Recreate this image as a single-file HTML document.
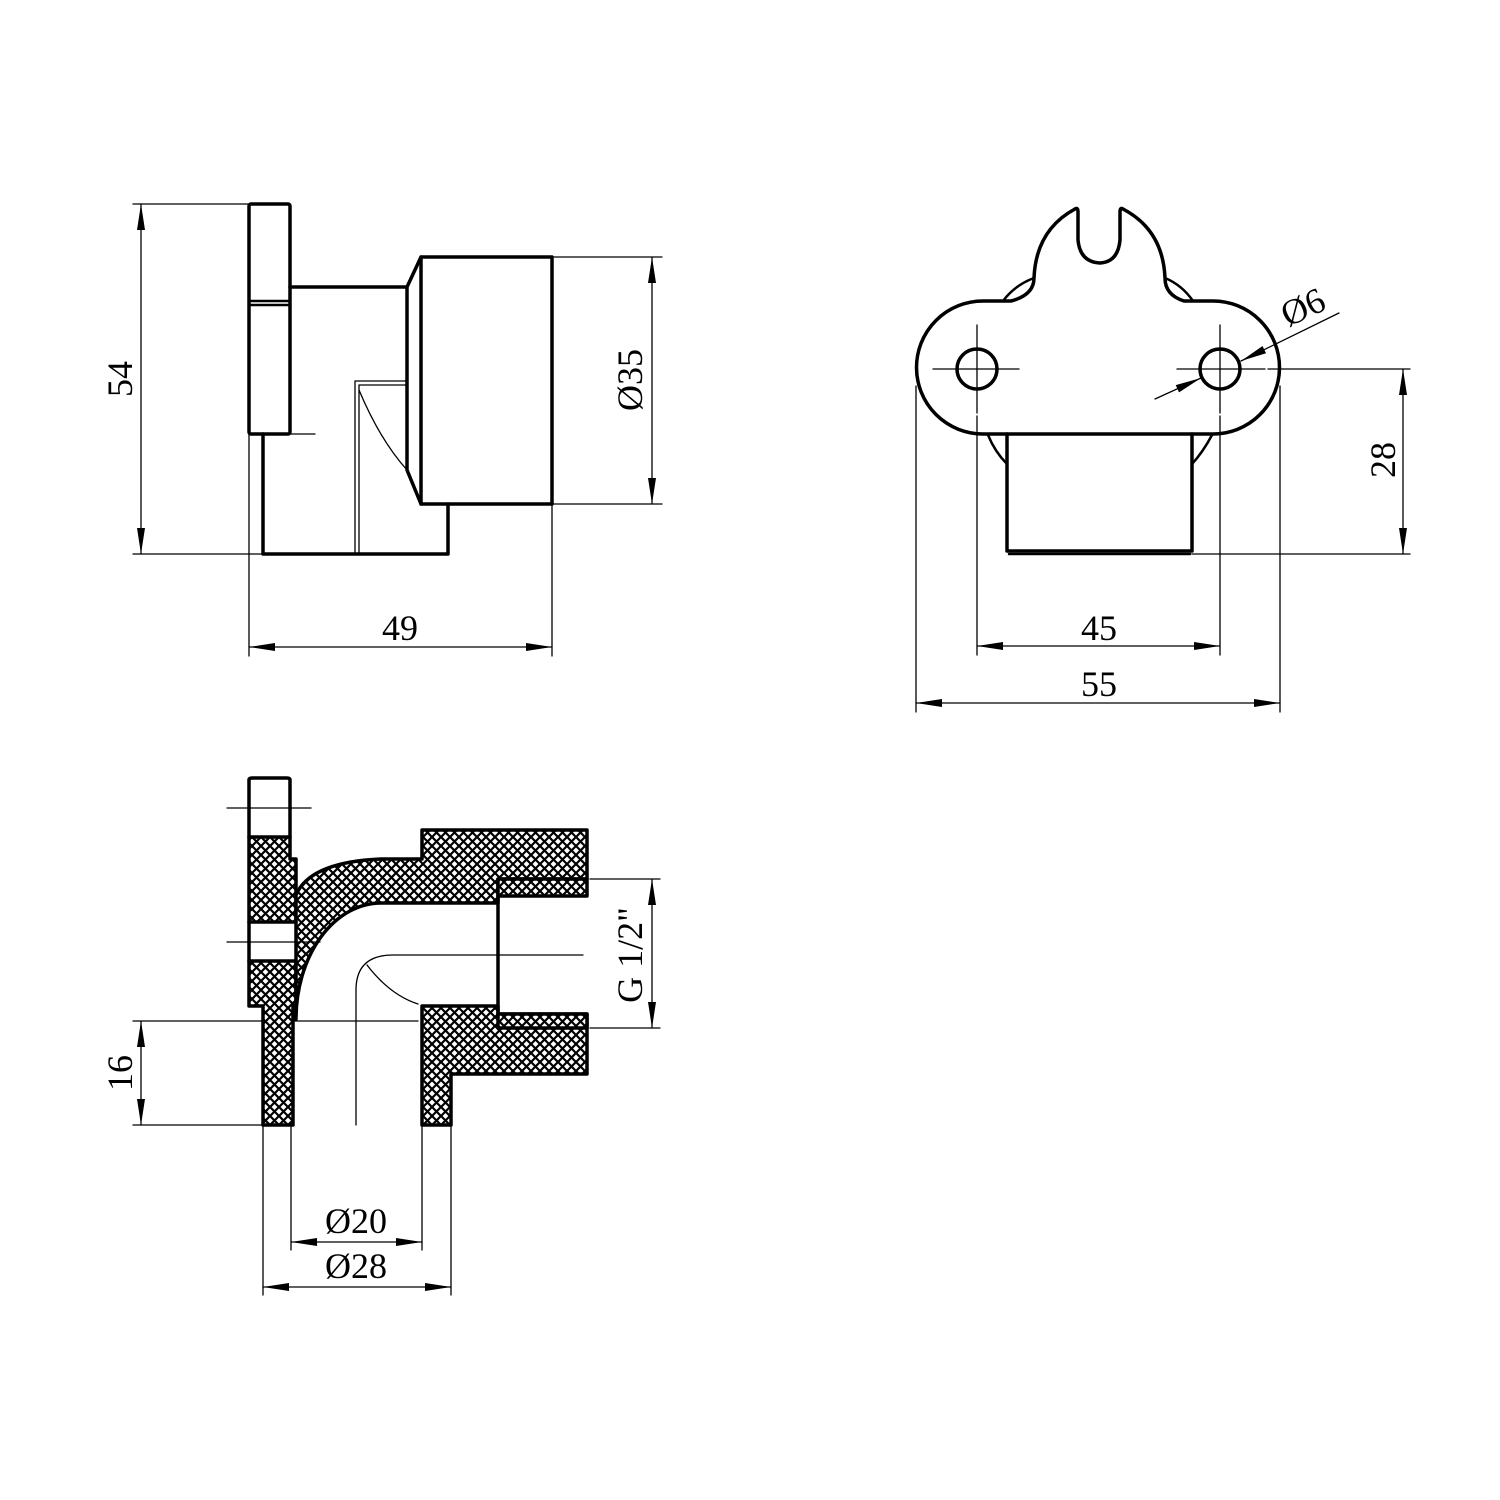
<!DOCTYPE html>
<html><head><meta charset="utf-8"><style>html,body{margin:0;padding:0;background:#fff}svg{display:block}text{font-family:"Liberation Serif",serif;font-size:36px;fill:#000}</style></head>
<body>
<svg width="1500" height="1500" viewBox="0 0 1500 1500" xmlns="http://www.w3.org/2000/svg">
<defs>
<pattern id="h" width="9" height="9" patternUnits="userSpaceOnUse">
<rect width="9" height="9" fill="#fff"/>
<path d="M-1,-1L10,10M10,-1L-1,10" stroke="#000" stroke-width="2.2"/>
</pattern>
<marker id="a" viewBox="0 0 26 8" refX="26" refY="4" markerWidth="26" markerHeight="8" markerUnits="userSpaceOnUse" orient="auto-start-reverse"><path d="M0,0L26,4L0,8z" fill="#000"/></marker>
</defs>
<g fill="none" stroke="#000" stroke-linejoin="round" stroke-linecap="round">
<g stroke-width="3.5">
<rect x="249" y="204" width="41" height="230" rx="2"/>
<line x1="249" y1="301" x2="290" y2="301" stroke-width="2.5"/>
<line x1="249" y1="305" x2="290" y2="305" stroke-width="2.5"/>
<path d="M290,287H407L421,257H552V504H421L407,470V287"/>
<line x1="421" y1="257" x2="421" y2="504"/>
<path d="M263,434V554H448V504"/>
</g>
<g stroke-width="1.3">
<line x1="290" y1="434" x2="315" y2="434"/>
<path d="M355,554V381H407M359,554V385H407"/>
<path d="M359,390Q380,440 407,470"/>
<line x1="133" y1="204" x2="249" y2="204"/><line x1="133" y1="554" x2="263" y2="554"/>
<line x1="141" y1="204" x2="141" y2="554" marker-start="url(#a)" marker-end="url(#a)"/>
<line x1="552" y1="257" x2="662" y2="257"/><line x1="552" y1="504" x2="662" y2="504"/>
<line x1="652" y1="257" x2="652" y2="504" marker-start="url(#a)" marker-end="url(#a)"/>
<line x1="249" y1="434" x2="249" y2="656"/><line x1="552" y1="504" x2="552" y2="656"/>
<line x1="249" y1="647" x2="552" y2="647" marker-start="url(#a)" marker-end="url(#a)"/>
</g>
<g stroke-width="3.5">
<path d="M1011,301H983A66.5,66.5 0 0 0 983,434H1213A66.5,66.5 0 0 0 1213,301H1184Q1165,295 1165,278Q1163,230 1123,209Q1120,207 1120,212V240Q1118,262 1100,263Q1080,262 1078,240V212Q1078,207 1075,209Q1036,230 1034,278Q1034,295 1011,301Z"/>
<circle cx="977" cy="369" r="20"/><circle cx="1220" cy="369" r="20"/>
<path d="M1007,434V551H1192V434"/>
</g>
<g stroke-width="2.5">
<path d="M1003,301Q1015,285 1034,278"/><path d="M1193,301Q1182,285 1165,278"/>
<path d="M988,435Q995,452 1007,464"/><path d="M1212,435Q1203,452 1192,464"/>
<line x1="1009" y1="554" x2="1190" y2="554"/>
</g>
<g stroke-width="1.3">
<line x1="933" y1="369" x2="1019" y2="369"/><line x1="1177" y1="369" x2="1265" y2="369"/>
<line x1="1268" y1="369" x2="1410" y2="369"/>
<line x1="977" y1="325" x2="977" y2="413"/><line x1="1220" y1="325" x2="1220" y2="413"/>
<line x1="977" y1="416" x2="977" y2="655"/><line x1="1220" y1="416" x2="1220" y2="655"/>
<line x1="916" y1="386" x2="916" y2="712"/><line x1="1280" y1="386" x2="1280" y2="712"/>
<line x1="977" y1="646" x2="1220" y2="646" marker-start="url(#a)" marker-end="url(#a)"/>
<line x1="916" y1="703" x2="1280" y2="703" marker-start="url(#a)" marker-end="url(#a)"/>
<line x1="1192" y1="554" x2="1410" y2="554"/>
<line x1="1403" y1="369" x2="1403" y2="554" marker-start="url(#a)" marker-end="url(#a)"/>
<line x1="1155" y1="399" x2="1201" y2="378" marker-end="url(#a)"/>
<line x1="1339" y1="313" x2="1241" y2="361" marker-end="url(#a)"/>
</g>
<g stroke-width="3.5" fill="url(#h)">
<path d="M249,837H290V859H296V922H249Z"/>
<path d="M249,961H296V1006H293V1125H263V1006H249Z"/>
<path d="M296,895Q310,862 381,859H422V830H587V879H498V903H381A85,116 0 0 0 296,1019Z"/>
<path d="M422,1125V1006H498V1014H587V1074H451V1125Z"/>
<path d="M498,879H587V896H498Z"/>
<path d="M498,1014H587V1028H498Z"/>
</g>
<g stroke-width="3.5">
<path d="M249,837V780Q249,778 252,778H287Q290,778 290,780V837"/>
<line x1="249" y1="922" x2="249" y2="961"/>
<path d="M498,896V1014"/>
</g>
<g stroke-width="1.3">
<line x1="227" y1="808" x2="311" y2="808"/>
<line x1="227" y1="942" x2="320" y2="942"/>
<line x1="294" y1="1021" x2="418" y2="1021"/>
<path d="M356,1125V990Q356,955 393,955H583"/>
<path d="M367,965Q390,995 418,1004"/>
<line x1="133" y1="1021" x2="263" y2="1021"/><line x1="133" y1="1125" x2="263" y2="1125"/>
<line x1="141" y1="1021" x2="141" y2="1125" marker-start="url(#a)" marker-end="url(#a)"/>
<line x1="263" y1="1125" x2="263" y2="1295"/><line x1="451" y1="1125" x2="451" y2="1295"/>
<line x1="291" y1="1125" x2="291" y2="1250"/><line x1="422" y1="1125" x2="422" y2="1250"/>
<line x1="291" y1="1242" x2="422" y2="1242" marker-start="url(#a)" marker-end="url(#a)"/>
<line x1="263" y1="1287" x2="451" y2="1287" marker-start="url(#a)" marker-end="url(#a)"/>
<line x1="590" y1="879" x2="660" y2="879"/><line x1="590" y1="1028" x2="660" y2="1028"/>
<line x1="652" y1="879" x2="652" y2="1028" marker-start="url(#a)" marker-end="url(#a)"/>
</g>
</g>
<text x="400" y="640" text-anchor="middle">49</text>
<text transform="translate(132,379) rotate(-90)" text-anchor="middle">54</text>
<text transform="translate(642,380) rotate(-90)" text-anchor="middle">Ø35</text>
<text x="1099" y="640" text-anchor="middle">45</text>
<text x="1099" y="696" text-anchor="middle">55</text>
<text transform="translate(1395,460) rotate(-90)" text-anchor="middle">28</text>
<text transform="translate(1308,318) rotate(-25)" text-anchor="middle">Ø6</text>
<text transform="translate(132,1073) rotate(-90)" text-anchor="middle">16</text>
<text x="356" y="1233" text-anchor="middle">Ø20</text>
<text x="356" y="1278" text-anchor="middle">Ø28</text>
<text transform="translate(642,955) rotate(-90)" text-anchor="middle">G 1/2"</text>
</svg>
</body></html>
